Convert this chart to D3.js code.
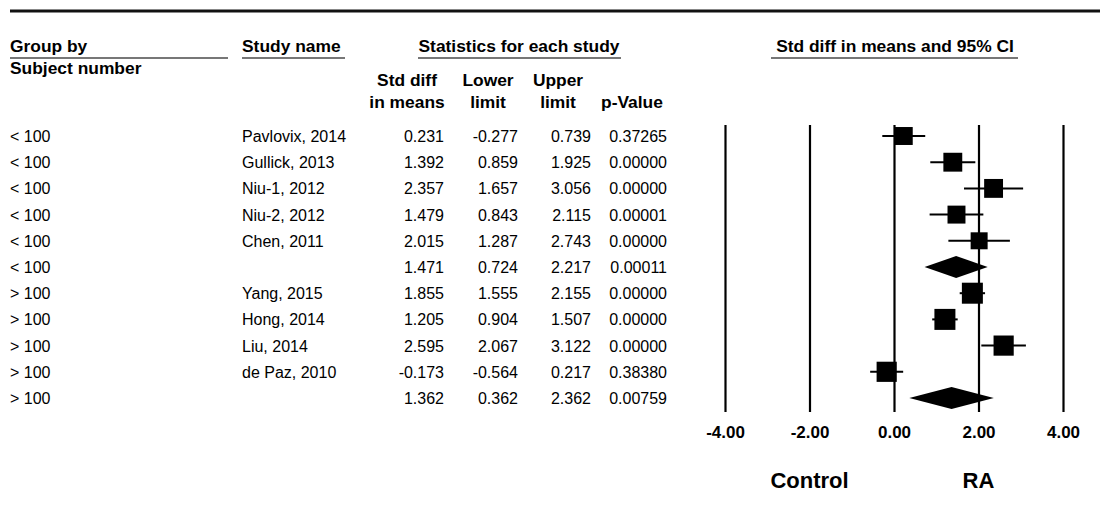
<!DOCTYPE html>
<html>
<head>
<meta charset="utf-8">
<script src="https://cdn.jsdelivr.net/npm/d3@7"></script>
<style>
  body { margin: 0; background: #fff; }
  text { font-family: "Liberation Sans", Arial, sans-serif; fill: #000; }
  .hdr { font-weight: bold; font-size: 17.4px; }
  .cell { font-size: 16px; }
</style>
</head>
<body>
<svg id="forest"></svg>
<script>
// data
var groups = ["< 100", "< 100", "< 100", "< 100", "< 100", "< 100",
              "> 100", "> 100", "> 100", "> 100", "> 100"];
var studies = ["Pavlovix, 2014", "Gullick, 2013", "Niu-1, 2012", "Niu-2, 2012", "Chen, 2011", "",
               "Yang, 2015", "Hong, 2014", "Liu, 2014", "de Paz, 2010", ""];
var stdDiff = [0.231, 1.392, 2.357, 1.479, 2.015, 1.471, 1.855, 1.205, 2.595, -0.173, 1.362];
var lowerLim = [-0.277, 0.859, 1.657, 0.843, 1.287, 0.724, 1.555, 0.904, 2.067, -0.564, 0.362];
var upperLim = [0.739, 1.925, 3.056, 2.115, 2.743, 2.217, 2.155, 1.507, 3.122, 0.217, 2.362];
var pValues = ["0.37265", "0.00000", "0.00000", "0.00001", "0.00000", "0.00011",
               "0.00000", "0.00000", "0.00000", "0.38380", "0.00759"];
var summary = [false, false, false, false, false, true, false, false, false, false, true];
// relative study weights (box area)
var weights = [19, 21, 21, 19, 17, 0, 26, 26, 24, 24, 0];
var ticks = [-4, -2, 0, 2, 4];

var W = 1100, H = 523;
var svg = d3.select("#forest").attr("width", W).attr("height", H);

var rows = d3.range(groups.length);
var y = d3.scalePoint().domain(rows).range([136, 398]);
var x = d3.scaleLinear().domain([-4, 4]).range([725, 1063]);
var box = d3.scaleSqrt().domain([0, d3.max(weights)]).range([0, 21]);

// plain hyphen instead of the unicode minus d3 uses
var fmt = function (spec) {
  var f = d3.format(spec);
  return function (v) { return f(v).replace("\u2212", "-"); };
};
var f3 = fmt(".3f");

// top rule
svg.append("line")
  .attr("x1", 10).attr("x2", W).attr("y1", 11).attr("y2", 11)
  .attr("stroke", "#111").attr("stroke-width", 3);

// header titles with underlines
var heads = [
  { t: "Group by", x1: 10, x2: 228, anchor: "start", tx: 10 },
  { t: "Study name", x1: 242, x2: 345, anchor: "start", tx: 242 },
  { t: "Statistics for each study", x1: 418, x2: 621, anchor: "middle", tx: 519 },
  { t: "Std diff in means and 95% CI", x1: 771, x2: 1018, anchor: "middle", tx: 895 }
];
heads.forEach(function (h) {
  svg.append("text").attr("class", "hdr")
    .attr("x", h.tx).attr("y", 52).attr("text-anchor", h.anchor).text(h.t);
  svg.append("line")
    .attr("x1", h.x1).attr("x2", h.x2).attr("y1", 58).attr("y2", 58)
    .attr("stroke", "#777").attr("stroke-width", 2);
});
svg.append("text").attr("class", "hdr").attr("x", 10).attr("y", 74).text("Subject number");

// column headers
var cols = [
  { l1: "Std diff", l2: "in means", cx: 407, right: 444, vals: stdDiff.map(f3) },
  { l1: "Lower", l2: "limit", cx: 488, right: 518, vals: lowerLim.map(f3) },
  { l1: "Upper", l2: "limit", cx: 558, right: 591, vals: upperLim.map(f3) },
  { l1: "", l2: "p-Value", cx: 632, right: 667, vals: pValues }
];
cols.forEach(function (c) {
  svg.append("text").attr("class", "hdr").attr("x", c.cx).attr("y", 86)
    .attr("text-anchor", "middle").text(c.l1);
  svg.append("text").attr("class", "hdr").attr("x", c.cx).attr("y", 108)
    .attr("text-anchor", "middle").text(c.l2);
  svg.append("g").selectAll("text")
    .data(rows)
    .enter()
    .append("text")
    .attr("class", "cell")
    .attr("x", c.right)
    .attr("y", function (i) { return y(i) + 6; })
    .attr("text-anchor", "end")
    .text(function (i) { return c.vals[i]; });
});

// group and study labels
svg.append("g").selectAll("text")
  .data(rows).enter().append("text")
  .attr("class", "cell").attr("x", 10)
  .attr("y", function (i) { return y(i) + 6; })
  .text(function (i) { return groups[i]; });
svg.append("g").selectAll("text")
  .data(rows).enter().append("text")
  .attr("class", "cell").attr("x", 242)
  .attr("y", function (i) { return y(i) + 6; })
  .text(function (i) { return studies[i]; });

// axis with full-height reference lines
var axis = d3.axisBottom(x)
  .tickValues(ticks)
  .tickSize(-(412 - 125))
  .tickPadding(14)
  .tickFormat(fmt(".2f"));
var gx = svg.append("g").attr("transform", "translate(0,412)").call(axis);
gx.select(".domain").remove();
gx.selectAll(".tick line").attr("stroke", "#000").attr("stroke-width", 2.2);
gx.selectAll(".tick text")
  .style("font-family", "'Liberation Sans', Arial, sans-serif")
  .style("font-size", "17px").style("font-weight", "bold").attr("fill", "#000");

// CI whiskers and boxes
var plot = svg.append("g");
var studyRows = rows.filter(function (i) { return !summary[i]; });
plot.selectAll(".ci")
  .data(studyRows).enter().append("line")
  .attr("x1", function (i) { return x(lowerLim[i]); })
  .attr("x2", function (i) { return x(upperLim[i]); })
  .attr("y1", function (i) { return y(i); })
  .attr("y2", function (i) { return y(i); })
  .attr("stroke", "#000").attr("stroke-width", 2);
plot.selectAll(".box")
  .data(studyRows).enter().append("rect")
  .attr("x", function (i) { return x(stdDiff[i]) - box(weights[i]) / 2; })
  .attr("y", function (i) { return y(i) - box(weights[i]) / 2; })
  .attr("width", function (i) { return box(weights[i]); })
  .attr("height", function (i) { return box(weights[i]); })
  .attr("fill", "#000");

// summary diamonds
plot.selectAll(".dia")
  .data(rows.filter(function (i) { return summary[i]; })).enter().append("path")
  .attr("d", function (i) {
    var cy = y(i), h = 11;
    return "M" + x(lowerLim[i]) + "," + cy +
      "L" + x(stdDiff[i]) + "," + (cy - h) +
      "L" + x(upperLim[i]) + "," + cy +
      "L" + x(stdDiff[i]) + "," + (cy + h) + "Z";
  })
  .attr("fill", "#000");

// favours labels
svg.append("text").attr("x", x(-2)).attr("y", 488).attr("text-anchor", "middle")
  .style("font-size", "22px").style("font-weight", "bold").text("Control");
svg.append("text").attr("x", x(2)).attr("y", 488).attr("text-anchor", "middle")
  .style("font-size", "22px").style("font-weight", "bold").text("RA");
</script>
</body>
</html>
